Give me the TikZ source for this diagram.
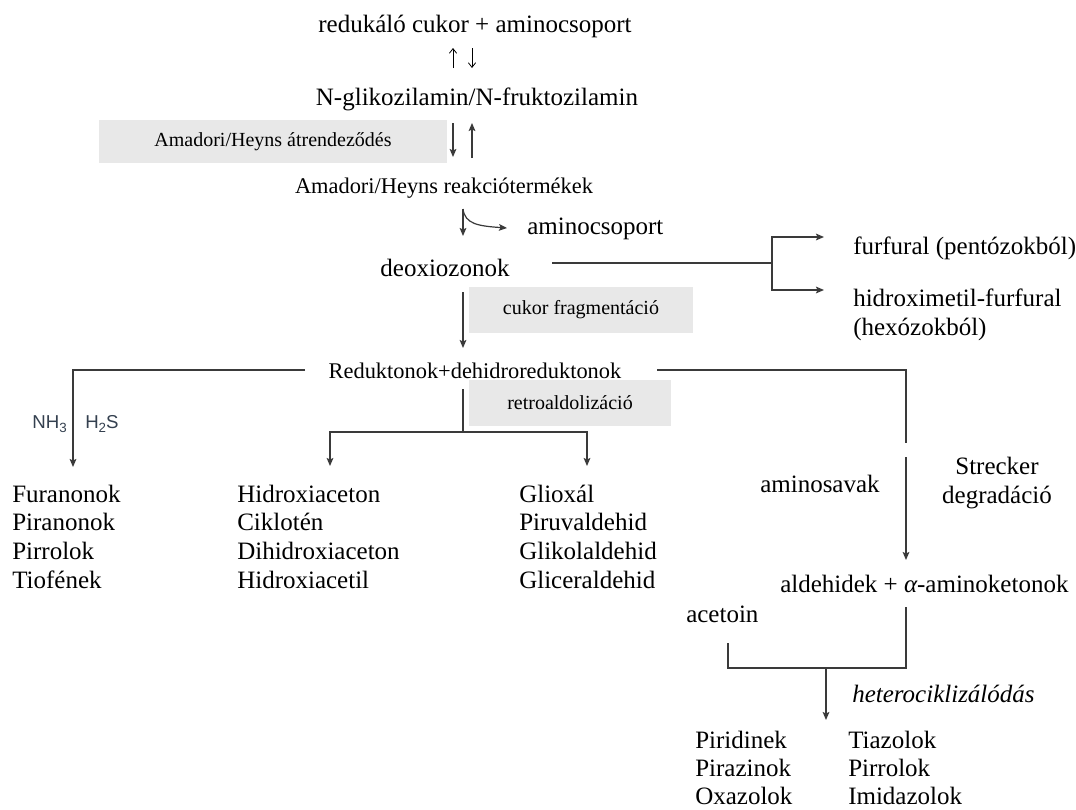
\documentclass[tikz,border=0pt]{standalone}
\usepackage{fontspec}
\setmainfont{Liberation Serif}
\newfontfamily\labsans{Liberation Sans}
\usetikzlibrary{arrows.meta}
\definecolor{linec}{HTML}{3A3A3A}
\definecolor{boxgray}{HTML}{E8E8E8}
\definecolor{chemc}{HTML}{34404F}
\newcommand{\chemsub}[1]{\raisebox{-3pt}{\fontsize{10}{12}\selectfont #1}}
\tikzset{
  ln/.style={draw=linec, line width=0.9pt},
  arr/.style={ln, -{Stealth[length=6pt,width=5pt,inset=1.2pt]}},
  thinarr/.style={draw=black, line width=0.6pt, -{Straight Barb[length=3.5pt,width=5.5pt]}},
  big/.style={font=\fontsize{18.75}{21.4}\selectfont, inner sep=0pt, text=black},
  tight/.style={font=\fontsize{18.75}{20.9}\selectfont, inner sep=0pt, text=black},
  mid/.style={font=\fontsize{16.8}{20}\selectfont, inner sep=0pt, text=black},
  graybox/.style={fill=boxgray, inner sep=0pt, font=\fontsize{15}{18}\selectfont, text=black},
  chem/.style={font=\labsans\fontsize{14}{16}\selectfont, text=chemc, inner sep=0pt},
}
\begin{document}
\begin{tikzpicture}[x=0.75pt,y=-0.75pt]
\useasboundingbox (0,0) rectangle (1076,810);

% grey label boxes
\node[graybox, minimum width=261pt, minimum height=32.25pt] (b1) at (273,141.5) {Amadori/Heyns átrendeződés};
\node[graybox, minimum width=168pt, minimum height=34.5pt] (b2) at (581,310) {cukor fragmentáció};
\node[graybox, minimum width=151.5pt, minimum height=34.5pt] (b3) at (570,403) {retroaldolizáció};

% main texts (multi-line nodes are anchored at the baseline of their last line)
\node[big, anchor=base] (t1) at (475,32) {redukáló cukor + aminocsoport};
\node[big, anchor=base] (t2) at (477,105) {N-glikozilamin/N-fruktozilamin};
\node[mid, anchor=base] (t3) at (444,193) {Amadori/Heyns reakciótermékek};
\node[big, anchor=base west] (amino) at (527,234) {aminocsoport};
\node[big, anchor=base] (deox) at (445,276) {deoxiozonok};
\node[big, anchor=base west] (furf) at (853,254) {furfural (pentózokból)};
\node[big, anchor=base west, align=left] (hmf) at (853,335) {hidroximetil-furfural\\(hexózokból)};
\node[mid, anchor=base] (red) at (475,378) {Reduktonok+dehidroreduktonok};
\node[chem, anchor=base east] (nh3) at (67,428) {NH\chemsub{3}};
\node[chem, anchor=base west] (h2s) at (85,428) {H\chemsub{2}S};
\node[big, anchor=base west, align=left] (col1) at (12,588) {Furanonok\\Piranonok\\Pirrolok\\Tiofének};
\node[big, anchor=base west, align=left] (col2) at (237,588) {Hidroxiaceton\\Ciklotén\\Dihidroxiaceton\\Hidroxiacetil};
\node[big, anchor=base west, align=left] (col3) at (519,588) {Glioxál\\Piruvaldehid\\Glikolaldehid\\Gliceraldehid};
\node[big, anchor=base west] (aminos) at (760,492) {aminosavak};
\node[big, anchor=base, align=center] (streck) at (997,503) {Strecker\\degradáció};
\node[big, anchor=base west] (ald) at (780,592) {aldehidek + {\itshape α}-aminoketonok};
\node[big, anchor=base west] (acet) at (686,622) {acetoin};
\node[big, anchor=base west] (het) at (852,702) {\itshape heterociklizálódás};
\node[tight, anchor=base west, align=left] (col4) at (695,804) {Piridinek\\Pirazinok\\Oxazolok};
\node[tight, anchor=base west, align=left] (col5) at (848,804) {Tiazolok\\Pirrolok\\Imidazolok};

% connector end points
\coordinate (u1s) at (453,68);  \coordinate (u1e) at (453,48);
\coordinate (u2s) at (472,48);  \coordinate (u2e) at (472,68);
\coordinate (a1s) at (453,123); \coordinate (a1e) at (453,157);
\coordinate (a2s) at (472,158); \coordinate (a2e) at (472,123);
\coordinate (ctop) at (463,209); \coordinate (cend) at (507,228); \coordinate (dend) at (463,236);
\coordinate (dx0) at (552,263); \coordinate (fork) at (772,263);
\coordinate (fa1) at (824,237); \coordinate (fa2) at (824,290);
\coordinate (d2s) at (463,292); \coordinate (d2e) at (463,348);
\coordinate (rl0) at (305,370); \coordinate (fa) at (73,467);
\coordinate (rr0) at (657,370); \coordinate (rr1) at (906,443);
\coordinate (rr2) at (906,457); \coordinate (rr3) at (906,560);
\coordinate (rm0) at (463,389); \coordinate (rm1) at (463,432);
\coordinate (ha) at (330,466); \coordinate (ga) at (587,466);
\coordinate (ac0) at (728,643); \coordinate (bl) at (728,668);
\coordinate (br) at (906,668); \coordinate (al0) at (906,607);
\coordinate (bj) at (826,668); \coordinate (bend) at (826,720);

% connectors
\draw[thinarr] (u1s) -- (u1e);
\draw[thinarr] (u2s) -- (u2e);
\draw[arr] (a1s) -- (a1e);
\draw[arr] (a2s) -- (a2e);
\draw[arr] (ctop) -- (dend);
\draw[arr] (ctop) .. controls (465,224) and (478,226) .. (cend);
\draw[ln] (dx0) -- (fork);
\draw[arr] (fork) |- (fa1);
\draw[arr] (fork) |- (fa2);
\draw[arr] (d2s) -- (d2e);
\draw[arr] (rl0) -| (fa);
\draw[ln] (rr0) -| (rr1);
\draw[arr] (rr2) -- (rr3);
\draw[ln] (rm0) -- (rm1);
\draw[arr] (rm1) -| (ha);
\draw[arr] (rm1) -| (ga);
\draw[ln] (ac0) -- (bl) -- (br) -- (al0);
\draw[arr] (bj) -- (bend);
\end{tikzpicture}
\end{document}
